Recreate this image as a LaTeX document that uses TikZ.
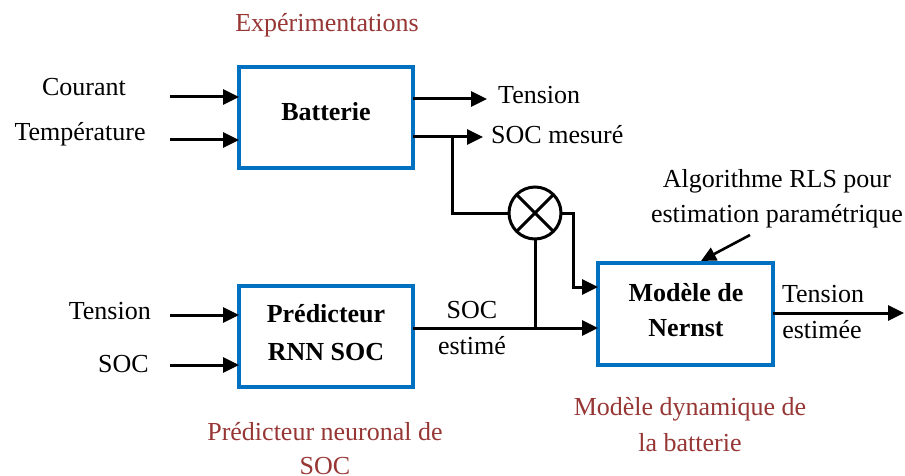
\documentclass[tikz,border=0pt]{standalone}
\usepackage{fontspec}
\setmainfont{Liberation Serif}
\usetikzlibrary{arrows.meta}
\definecolor{boxblue}{RGB}{0,112,192}
\definecolor{capred}{RGB}{150,55,53}
\begin{document}
\begin{tikzpicture}[x=1pt,y=-1pt,
  blockbox/.style={draw=boxblue,line width=3.2pt,minimum width=174pt,minimum height=101pt,inner sep=0pt,outer sep=0pt},
  arr/.style={line width=3pt,-{Triangle[length=16pt,width=15pt]}},
  ln/.style={line width=3pt},
  txt/.style={inner sep=0pt,font=\fontsize{26}{35}\selectfont},
  btxt/.style={inner sep=0pt,align=center,font=\fontsize{26}{38}\selectfont\bfseries},
  captxt/.style={inner sep=0pt,align=center,text=capred,font=\fontsize{26}{34}\selectfont}]
\useasboundingbox (0,0) rectangle (905,476);
% blocks
\node[blockbox] (batt) at (326,117.5) {};
\node[blockbox] (rnn) at (326,336.5) {};
\node[blockbox,minimum width=175pt,minimum height=102pt] (nern) at (685.5,314) {};
\node[circle,draw,line width=3pt,minimum size=52pt,inner sep=0pt,outer sep=0pt] (mult) at (535,213) {};
\draw[ln] (mult.north west) -- (mult.south east);
\draw[ln] (mult.north east) -- (mult.south west);
% block texts
\node[btxt] (batt-t) at (326,112) {Batterie};
\node[btxt] (rnn-t) at (326,333) {Prédicteur\\RNN SOC};
\node[btxt,font=\fontsize{26}{35}\selectfont\bfseries] (nern-t) at (686,310) {Modèle de\\Nernst};
% free ends
\coordinate (cin) at (170,97);
\coordinate (tin) at (170,140);
\coordinate (vin) at (170,315);
\coordinate (sin) at (170,365);
\coordinate (vout) at (487,99);
\coordinate (sout) at (483,137);
\coordinate (j1) at (452,137);
\coordinate (j2) at (535,328);
\coordinate (k1) at (573,213);
\coordinate (eout) at (904,313);
\coordinate (rls) at (750,235);
\coordinate (rlsend) at (701,261);
% input arrows
\draw[arr] (cin) -- (batt.west |- cin);
\draw[arr] (tin) -- (batt.west |- tin);
\draw[arr] (vin) -- (rnn.west |- vin);
\draw[arr] (sin) -- (rnn.west |- sin);
% battery outputs
\draw[arr] (batt.east |- vout) -- (vout);
\draw[arr] (batt.east |- sout) -- (sout);
\draw[ln] (j1) |- (mult.west);
\draw[arr] (mult.east) -- (k1) |- (nern.west |- 0,287);
\draw[arr] (rnn.east |- j2) -- (nern.west |- j2);
\draw[ln] (mult.south) -- (j2);
\draw[arr] (nern.east |- eout) -- (eout);
\draw[line width=2.6pt,-{Triangle[length=15pt,width=14pt]}] (rls) -- (rlsend);
% labels
\node[txt] (l-cour) at (84,87) {Courant};
\node[txt] (l-temp) at (80,134) {Température};
\node[txt,anchor=west] (l-tens) at (498,95) {Tension};
\node[txt,anchor=west] (l-socm) at (491,135) {SOC mesuré};
\node[txt,anchor=east] (l-tin) at (151,311) {Tension};
\node[txt,anchor=east] (l-sin) at (149,364) {SOC};
\node[txt] (l-soc) at (472,310) {SOC};
\node[txt] (l-est) at (472,346) {estimé};
\node[txt] (l-tout) at (823,294) {Tension};
\node[txt] (l-eout) at (822,330) {estimée};
\node[txt,align=center] (l-rls) at (777,199) {Algorithme RLS pour\\estimation paramétrique};
\node[captxt] (c-exp) at (327,25) {Expérimentations};
\node[captxt] (c-pred) at (325,449) {Prédicteur neuronal de\\SOC};
\node[captxt,font=\fontsize{26}{36}\selectfont] (c-mod) at (690,425) {Modèle dynamique de\\la batterie};
\end{tikzpicture}
\end{document}
